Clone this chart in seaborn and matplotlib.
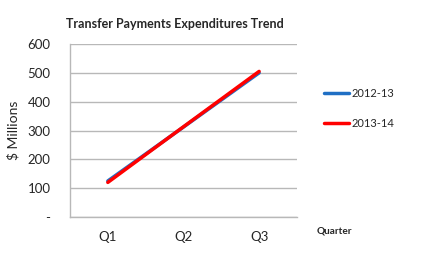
import matplotlib
matplotlib.use('Agg')
import matplotlib.pyplot as plt
import seaborn as sns
import pandas as pd

quarters = ['Q1', 'Q2', 'Q3']
fy_2012_13 = [125, 312, 500]
fy_2013_14 = [120, 313, 505]
series_names = ['2012-13', '2013-14']
y_ticks = [0, 100, 200, 300, 400, 500, 600]
y_labels = ['-', '100', '200', '300', '400', '500', '600']

df = pd.DataFrame({
    'quarter': quarters * 2,
    'value': fy_2012_13 + fy_2013_14,
    'year': [series_names[0]] * 3 + [series_names[1]] * 3,
})

sns.set_theme(style='white')
plt.rcParams['font.family'] = ['Lato', 'DejaVu Sans']

fig = plt.figure(figsize=(4.23, 2.54), dpi=100)
ax = fig.add_axes([0.1655, 0.1457, 0.5365, 0.681])

sns.lineplot(data=df, x='quarter', y='value', hue='year',
             palette={'2012-13': '#1f6fc4', '2013-14': '#ff0000'},
             linewidth=2.5, ax=ax, sort=False)

ax.set_xlim(-0.5, 2.5)
ax.set_ylim(0, 600)
ax.set_yticks(y_ticks)
ax.set_yticklabels(y_labels, fontsize=9.5)
ax.tick_params(axis='x', labelsize=9.5, length=0, pad=10)
ax.tick_params(axis='y', length=0, pad=14)
ax.yaxis.grid(True, color='#b8b8b8', linewidth=1)
ax.set_axisbelow(True)
for s in ['top', 'right']:
    ax.spines[s].set_visible(False)
for s in ['left', 'bottom']:
    ax.spines[s].set_color('#b8b8b8')
    ax.spines[s].set_linewidth(1)

ax.set_xlabel('')
ax.set_ylabel('$ Millions', fontsize=10, labelpad=6)
fig.text(0.155, 0.905, 'Transfer Payments Expenditures Trend',
         fontsize=9, fontweight='bold', ha='left', va='center')
fig.text(0.749, 0.09, 'Quarter', fontsize=7.2, fontweight='bold',
         ha='left', va='center')

ax.legend(loc='center left', bbox_to_anchor=(1.073, 0.628), frameon=False,
          fontsize=8, handlelength=2.3, labelspacing=1.7, handletextpad=0.25)

plt.savefig('out.png', dpi=100)
plt.close()
